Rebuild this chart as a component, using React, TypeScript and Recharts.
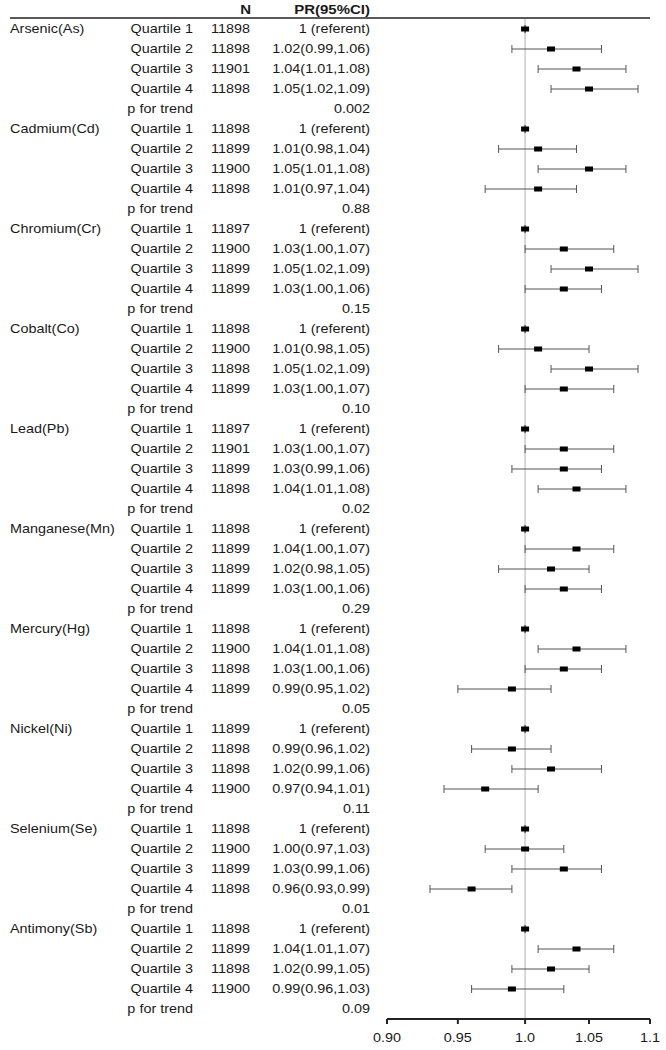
import React from "react";
import {
	ScatterChart,
	Scatter,
	XAxis,
	YAxis,
	ErrorBar,
	ReferenceLine,
} from "recharts";

const metals = [
	"Arsenic(As)",
	"Cadmium(Cd)",
	"Chromium(Cr)",
	"Cobalt(Co)",
	"Lead(Pb)",
	"Manganese(Mn)",
	"Mercury(Hg)",
	"Nickel(Ni)",
	"Selenium(Se)",
	"Antimony(Sb)",
];

const quartiles = ["Quartile 1", "Quartile 2", "Quartile 3", "Quartile 4"];

// N per quartile (Q1..Q4)
const nCounts = [
	[11898, 11898, 11901, 11898],
	[11898, 11899, 11900, 11898],
	[11897, 11900, 11899, 11899],
	[11898, 11900, 11898, 11899],
	[11897, 11901, 11899, 11898],
	[11898, 11899, 11899, 11899],
	[11898, 11900, 11898, 11899],
	[11899, 11898, 11898, 11900],
	[11898, 11900, 11899, 11898],
	[11898, 11899, 11898, 11900],
];

// PR for Q2..Q4 (Q1 is the referent)
const estimates = [
	[1.02, 1.04, 1.05],
	[1.01, 1.05, 1.01],
	[1.03, 1.05, 1.03],
	[1.01, 1.05, 1.03],
	[1.03, 1.03, 1.04],
	[1.04, 1.02, 1.03],
	[1.04, 1.03, 0.99],
	[0.99, 1.02, 0.97],
	[1.0, 1.03, 0.96],
	[1.04, 1.02, 0.99],
];

const lower = [
	[0.99, 1.01, 1.02],
	[0.98, 1.01, 0.97],
	[1.0, 1.02, 1.0],
	[0.98, 1.02, 1.0],
	[1.0, 0.99, 1.01],
	[1.0, 0.98, 1.0],
	[1.01, 1.0, 0.95],
	[0.96, 0.99, 0.94],
	[0.97, 0.99, 0.93],
	[1.01, 0.99, 0.96],
];

const upper = [
	[1.06, 1.08, 1.09],
	[1.04, 1.08, 1.04],
	[1.07, 1.09, 1.06],
	[1.05, 1.09, 1.07],
	[1.07, 1.06, 1.08],
	[1.07, 1.05, 1.06],
	[1.08, 1.06, 1.02],
	[1.02, 1.06, 1.01],
	[1.03, 1.06, 0.99],
	[1.07, 1.05, 1.03],
];

const pTrend = ["0.002", "0.88", "0.15", "0.10", "0.02", "0.29", "0.05", "0.11", "0.01", "0.09"];

const xTicks = [0.9, 0.95, 1.0, 1.05, 1.1];
const xTickLabels = ["0.90", "0.95", "1.0", "1.05", "1.1"];

const FONT = "'Liberation Sans', Arial, Helvetica, sans-serif";
const TEXT = "#1a1a1a";
const SX = 1.2; // the original figure is horizontally stretched

const fmt = (v: number) => v.toFixed(2);

type Row = { metal: string; label: string; n: string; pr: string };

// table rows: 4 quartiles + p for trend per metal
const rows: Row[] = [];
const points: { row: number; est: number; err: number[] }[] = [];
metals.forEach((m, mi) => {
	quartiles.forEach((q, qi) => {
		const row = mi * 5 + qi;
		if (qi === 0) {
			rows.push({ metal: m, label: q, n: String(nCounts[mi][qi]), pr: "1 (referent)" });
			points.push({ row, est: 1, err: [0, 0] });
		} else {
			const e = estimates[mi][qi - 1];
			const lo = lower[mi][qi - 1];
			const hi = upper[mi][qi - 1];
			rows.push({
				metal: "",
				label: q,
				n: String(nCounts[mi][qi]),
				pr: `${fmt(e)}(${fmt(lo)},${fmt(hi)})`,
			});
			points.push({ row, est: e, err: [e - lo, hi - e] });
		}
	});
	rows.push({ metal: "", label: "p for trend", n: "", pr: pTrend[mi] });
});

const rowTicks = rows.map((_, i) => i);

function StretchText({
	x,
	y,
	anchor,
	children,
	bold,
	size = 12,
}: {
	x: number;
	y: number;
	anchor: "start" | "end" | "middle";
	children: React.ReactNode;
	bold?: boolean;
	size?: number;
}) {
	return (
		<text
			transform={`translate(${x},${y}) scale(${SX},1)`}
			textAnchor={anchor}
			dy="0.35em"
			fontFamily={FONT}
			fontSize={size}
			fontWeight={bold ? 700 : 400}
			fill={TEXT}
		>
			{children}
		</text>
	);
}

function RowTick(props: any) {
	const { y, payload } = props;
	const r = rows[payload.value];
	if (!r) return null;
	return (
		<g>
			{r.metal && (
				<StretchText x={10} y={y} anchor="start">
					{r.metal}
				</StretchText>
			)}
			<StretchText x={193} y={y} anchor="end">
				{r.label}
			</StretchText>
			{r.n && (
				<StretchText x={211} y={y} anchor="start">
					{r.n}
				</StretchText>
			)}
			<StretchText x={370} y={y} anchor="end">
				{r.pr}
			</StretchText>
		</g>
	);
}

function XTick(props: any) {
	const { x, y, payload } = props;
	const i = xTicks.indexOf(payload.value);
	return (
		<StretchText x={x} y={y + 12} anchor="middle">
			{i >= 0 ? xTickLabels[i] : String(payload.value)}
		</StretchText>
	);
}

const Marker = (props: any) => {
	const { cx, cy } = props;
	return <rect x={cx - 4} y={cy - 2.5} width={8} height={5} fill="#000" />;
};

export default function App() {
	return (
		<div
			style={{
				position: "absolute",
				left: 0,
				top: 0,
				width: 666,
				height: 1050,
				background: "#fff",
			}}
		>
			<ScatterChart
				width={666}
				height={1050}
				margin={{ top: 19, right: 16, bottom: 0, left: 0 }}
			>
				<XAxis
					type="number"
					dataKey="est"
					scale="log"
					domain={[0.9, 1.1]}
					ticks={xTicks}
					allowDataOverflow
					height={31}
					tickSize={5}
					axisLine={{ stroke: "#222", strokeWidth: 2 }}
					tickLine={{ stroke: "#222", strokeWidth: 2 }}
					tick={<XTick />}
				/>
				<YAxis
					type="number"
					dataKey="row"
					domain={[-0.5, rows.length - 0.5]}
					ticks={rowTicks}
					interval={0}
					reversed
					width={387}
					axisLine={false}
					tickLine={false}
					tick={<RowTick />}
				/>
				<ReferenceLine x={1} stroke="#d6d6d6" strokeWidth={2} />
				<Scatter data={points} shape={<Marker />} isAnimationActive={false}>
					<ErrorBar
						dataKey="err"
						direction="x"
						width={4}
						stroke="#555"
						strokeWidth={1}
					/>
				</Scatter>
			</ScatterChart>
			<svg
				width={666}
				height={24}
				style={{ position: "absolute", left: 0, top: 0, pointerEvents: "none" }}
			>
				<StretchText x={251} y={10} anchor="end" bold size={12.5}>
					N
				</StretchText>
				<StretchText x={370} y={10} anchor="end" bold size={12.5}>
					PR(95%CI)
				</StretchText>
				<line x1={10} y1={18} x2={650} y2={18} stroke="#222" strokeWidth={1.5} />
			</svg>
		</div>
	);
}
